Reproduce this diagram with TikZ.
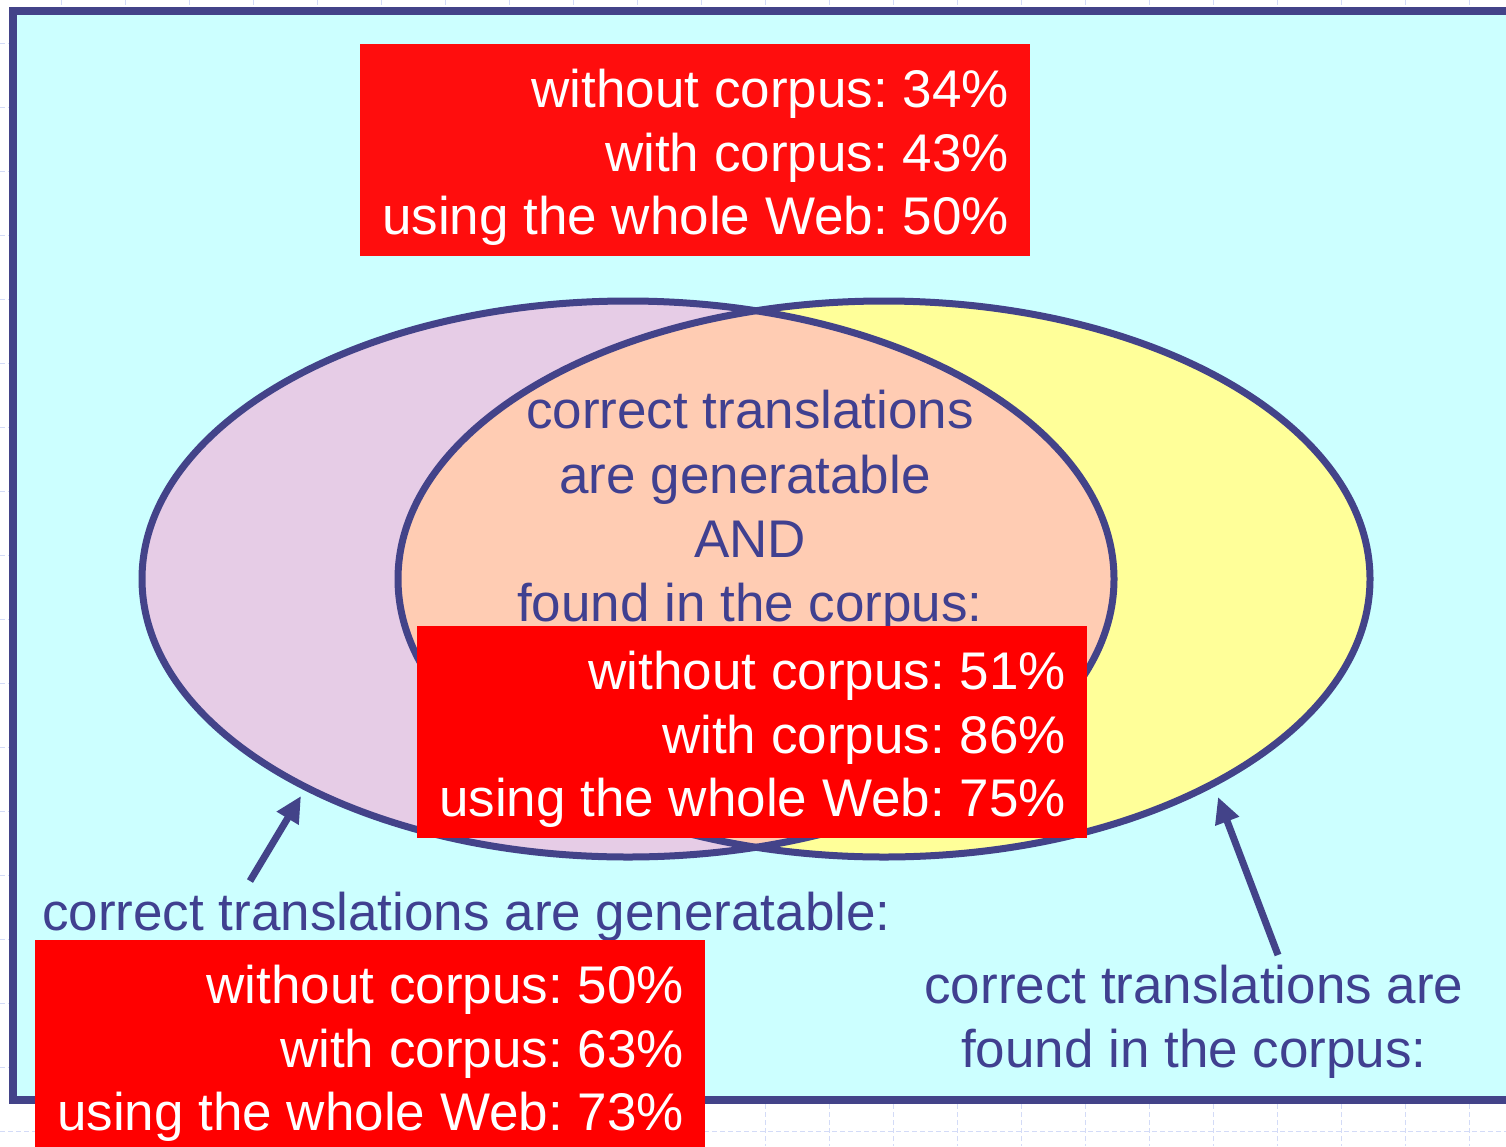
\documentclass[tikz,border=0pt]{standalone}
\usepackage{fontspec}
\setmainfont{Liberation Sans}
\usetikzlibrary{arrows.meta}
\definecolor{framec}{HTML}{434389}
\definecolor{inkc}{HTML}{404090}
\definecolor{panelc}{HTML}{CCFFFF}
\definecolor{lilacc}{HTML}{E6CCE6}
\definecolor{lemonc}{HTML}{FFFF99}
\definecolor{peachc}{HTML}{FFCCB3}
\definecolor{redc}{HTML}{FF0000}
\definecolor{redtopc}{HTML}{FF0D0D}
\definecolor{gridc}{HTML}{D3DBF7}
\frenchspacing
\tikzset{
  big/.style={font=\fontsize{53}{64}\selectfont, inner sep=0pt},
  whitetxt/.style={big, text=white, anchor=base east},
  bluetxt/.style={big, text=inkc},
  redbox/.style={fill=redc, draw=none, inner sep=0pt, anchor=north west,
    minimum width=670pt, minimum height=212pt},
  setline/.style={draw=framec, line width=7pt},
  pointer/.style={draw=framec, line width=7pt,
    -{Triangle[length=26pt,width=24pt]}},
  gridline/.style={draw=gridc, line width=1pt, dash pattern=on 5pt off 3pt},
}
\begin{document}
\begin{tikzpicture}[x=1pt,y=-1pt]
\useasboundingbox (0,0) rectangle (1506,1146);

% faint background grid
\foreach \gx in {61,125,...,1506} \draw[gridline] (\gx,0) -- (\gx,1146);
\foreach \gy in {43,107,...,1146} \draw[gridline] (0,\gy) -- (1506,\gy);

% slide panel
\draw[fill=panelc, draw=framec, line width=8pt] (13,11) rectangle (1525,1100);

% the two sets
\fill[lilacc] (628,579) ellipse [x radius=486, y radius=278];
\fill[lemonc] (884,579) ellipse [x radius=486, y radius=278];
\begin{scope}
  \clip (628,579) ellipse [x radius=486, y radius=278];
  \fill[peachc] (884,579) ellipse [x radius=486, y radius=278];
\end{scope}
\draw[setline] (628,579) ellipse [x radius=486, y radius=278];
\draw[setline] (884,579) ellipse [x radius=486, y radius=278];

% intersection label
\node[bluetxt, anchor=base] (i1) at (750,428) {correct translations};
\node[bluetxt, anchor=base] (i2) at (745,493) {are generatable};
\node[bluetxt, anchor=base] (i3) at (750,557) {AND};
\node[bluetxt, anchor=base] (i4) at (750,621) {found in the corpus:};

% top box
\node[redbox, fill=redtopc] (top) at (360,44) {};
\node[whitetxt] (t1) at (1009,107) {without corpus: 34\%};
\node[whitetxt] (t2) at (1009,171) {with corpus: 43\%};
\node[whitetxt] (t3) at (1009,234) {using the whole Web: 50\%};

% middle box
\node[redbox] (mid) at (417,626) {};
\node[whitetxt] (m1) at (1066,689) {without corpus: 51\%};
\node[whitetxt] (m2) at (1066,753) {with corpus: 86\%};
\node[whitetxt] (m3) at (1066,816) {using the whole Web: 75\%};

% left label and box
\node[bluetxt, anchor=base west] (gen) at (42,930) {correct translations are generatable:};
\node[redbox] (low) at (35,940) {};
\node[whitetxt] (l1) at (684,1003) {without corpus: 50\%};
\node[whitetxt] (l2) at (684,1067) {with corpus: 63\%};
\node[whitetxt] (l3) at (684,1130) {using the whole Web: 73\%};

% right label
\node[bluetxt, anchor=base] (fnd1) at (1194,1003) {correct translations are};
\node[bluetxt, anchor=base] (fnd2) at (1194,1067) {found in the corpus:};

% pointers
\coordinate (lt) at (250,881);
\coordinate (lh) at (301,796);
\coordinate (rt) at (1278,955);
\coordinate (rh) at (1218,797);
\draw[pointer] (lt) -- (lh);
\draw[pointer] (rt) -- (rh);
\end{tikzpicture}
\end{document}
